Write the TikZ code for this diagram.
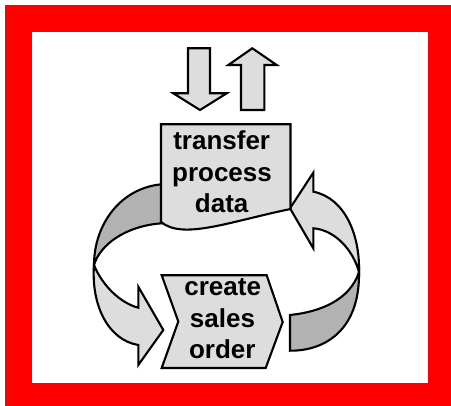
\documentclass[tikz,border=0pt]{standalone}
\usepackage{fontspec}
\setmainfont{Liberation Sans}
\definecolor{lightg}{HTML}{DDDDDD}
\definecolor{darkg}{HTML}{B2B2B2}
\definecolor{framered}{HTML}{FF0000}
\tikzset{
  shapeline/.style={draw=black, line width=2.1pt, line join=miter},
  lightpart/.style={shapeline, fill=lightg},
  darkpart/.style={shapeline, fill=darkg},
  lbl/.style={anchor=base, inner sep=0pt, font=\fontsize{26}{31.6}\selectfont\bfseries}
}
\begin{document}
\begin{tikzpicture}[x=1pt,y=-1pt]
\useasboundingbox (0,0) rectangle (451,406);
% frame
\fill[framered] (5,5) rectangle (451,406);
\fill[white] (31.7,31.7) rectangle (428.3,382.7);
% input / output arrows
\path[lightpart] (188,48.3) -- (210,48.3) -- (210,93.3) -- (226.7,93.3) -- (200,110) -- (173.3,93.3) -- (188,93.3) -- cycle;
\path[lightpart] (241,110) -- (241,65) -- (228.3,65) -- (252.3,48.3) -- (276.7,65) -- (264.3,65) -- (264.3,110) -- cycle;
% left loop arrow
\path[darkpart] (165,184.3) -- (161.7,184.3) .. controls (120,188) and (94,225) .. (94,265)
   .. controls (100,245) and (125,226) .. (161.7,223.3) -- (165,223.3) -- cycle;
\path[lightpart] (94,265) .. controls (91,305) and (108,340) .. (138.3,345) -- (138.3,365) -- (163.3,330)
   -- (138.3,286.7) -- (138.3,307.7) .. controls (120,303) and (102,285) .. (94,265) -- cycle;
% right loop arrow
\path[darkpart] (359,272) .. controls (360,330) and (325,351) .. (290,350.7) -- (290,315)
   .. controls (320,312) and (350,300) .. (359,272) -- cycle;
\path[lightpart] (290,208.3) -- (313.3,172.7) -- (313.3,191.7) .. controls (345,198) and (360,235) .. (359,272)
   .. controls (353,250) and (335,230) .. (313.3,228.3) -- (313.3,248.3) -- cycle;
% boxes
\path[lightpart] (161,124.3) -- (290.5,124.3) -- (290.5,209) .. controls (228,222) and (183,240) .. (161,222) -- cycle;
\path[lightpart] (161.7,275.3) -- (266.7,275.3) -- (282.7,322) -- (265.7,368) -- (161.7,368) -- (178.3,321.5) -- cycle;
% texts
\node[lbl] (t1) at (221.7,149.3) {transfer};
\node[lbl] (t2) at (222,181.7) {process};
\node[lbl] (t3) at (221.7,212.3) {data};
\node[lbl] (c1) at (222.7,295.3) {create};
\node[lbl] (c2) at (222.5,327.3) {sales};
\node[lbl] (c3) at (222.3,358.7) {order};
\end{tikzpicture}
\end{document}
